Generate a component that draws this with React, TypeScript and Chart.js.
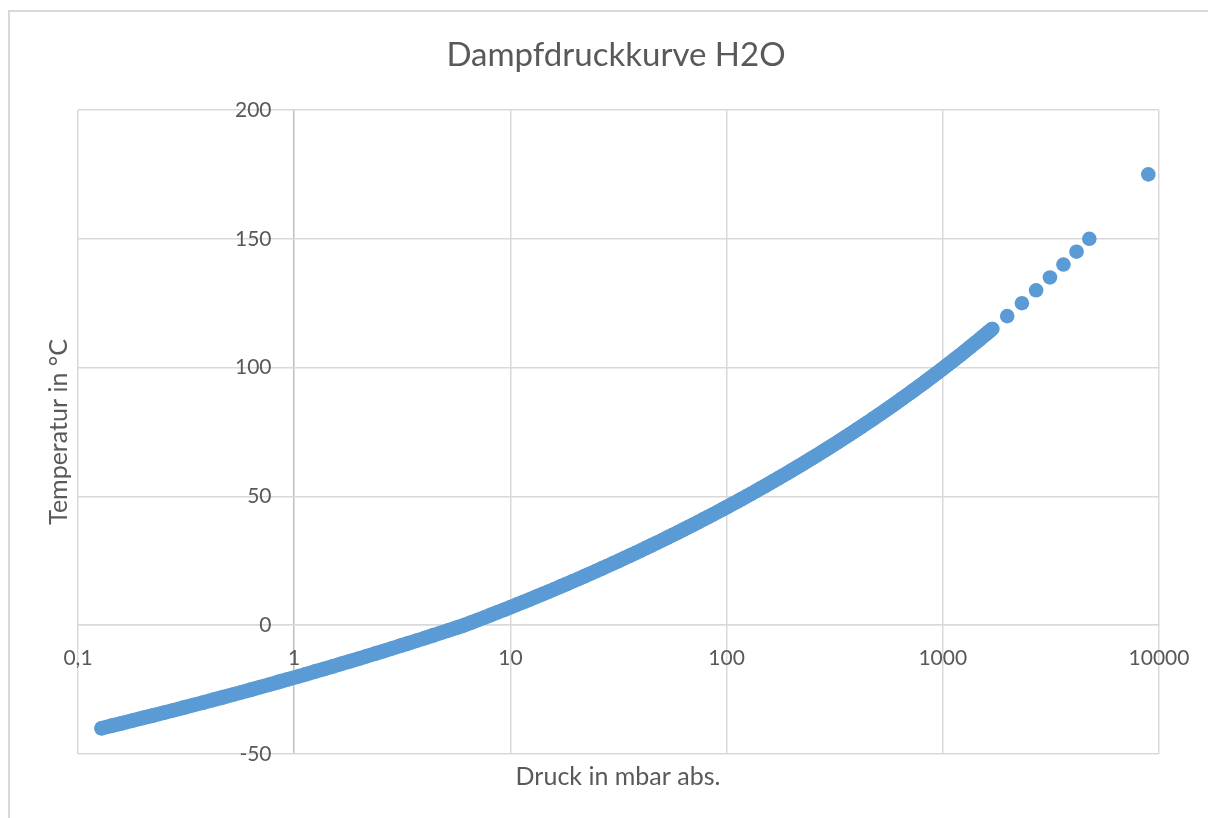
import React, { useEffect, useRef } from "react";
import { Chart, registerables } from "chart.js";

Chart.register(...registerables);

const chartTitle = "Dampfdruckkurve H2O";
const xAxisTitle = "Druck in mbar abs.";
const yAxisTitle = "Temperatur in °C";

// dense part of the curve (1 °C steps)
const denseTemperatureC = [
  -40, -39, -38, -37, -36, -35, -34, -33, -32, -31,
  -30, -29, -28, -27, -26, -25, -24, -23, -22, -21,
  -20, -19, -18, -17, -16, -15, -14, -13, -12, -11,
  -10, -9, -8, -7, -6, -5, -4, -3, -2, -1,
  0, 1, 2, 3, 4, 5, 6, 7, 8, 9,
  10, 11, 12, 13, 14, 15, 16, 17, 18, 19,
  20, 21, 22, 23, 24, 25, 26, 27, 28, 29,
  30, 31, 32, 33, 34, 35, 36, 37, 38, 39,
  40, 41, 42, 43, 44, 45, 46, 47, 48, 49,
  50, 51, 52, 53, 54, 55, 56, 57, 58, 59,
  60, 61, 62, 63, 64, 65, 66, 67, 68, 69,
  70, 71, 72, 73, 74, 75, 76, 77, 78, 79,
  80, 81, 82, 83, 84, 85, 86, 87, 88, 89,
  90, 91, 92, 93, 94, 95, 96, 97, 98, 99,
  100, 101, 102, 103, 104, 105, 106, 107, 108, 109,
  110, 111, 112, 113, 114, 115,
];

const densePressureMbar = [
  0.1285, 0.1436, 0.1605, 0.179, 0.1996, 0.2233, 0.2488, 0.2769, 0.3079, 0.3421,
  0.3801, 0.4213, 0.4669, 0.517, 0.572, 0.6323, 0.6985, 0.7709, 0.8502, 0.937,
  1.032, 1.135, 1.248, 1.371, 1.506, 1.652, 1.811, 1.984, 2.172, 2.376,
  2.597, 2.837, 3.097, 3.379, 3.685, 4.015, 4.372, 4.757, 5.173, 5.623,
  6.112, 6.571, 7.06, 7.581, 8.135, 8.725, 9.353, 10.021, 10.73, 11.483,
  12.282, 13.129, 14.028, 14.981, 15.989, 17.057, 18.188, 19.383, 20.647, 21.983,
  23.392, 24.878, 26.448, 28.104, 29.85, 31.69, 33.629, 35.67, 37.818, 40.078,
  42.455, 44.953, 47.578, 50.335, 53.229, 56.267, 59.454, 62.795, 66.298, 69.969,
  73.814, 77.84, 82.054, 86.464, 91.076, 95.898, 100.94, 106.2, 111.7, 117.44,
  123.44, 129.7, 136.22, 143.03, 150.12, 157.52, 165.22, 173.24, 181.59, 190.28,
  199.32, 208.73, 218.51, 228.68, 239.25, 250.22, 261.63, 273.47, 285.76, 298.52,
  311.76, 325.49, 339.72, 354.49, 369.78, 385.63, 402.05, 419.05, 436.65, 454.87,
  473.73, 493.24, 513.42, 534.28, 555.85, 578.15, 601.19, 624.99, 649.58, 674.96,
  701.17, 728.23, 756.14, 784.95, 814.65, 845.29, 876.88, 909.45, 943.01, 977.6,
  1014.2, 1050, 1088, 1127, 1167, 1209, 1251, 1294, 1339, 1385,
  1433.8, 1482, 1532, 1583.3, 1636.5, 1691.8,
];

// single points above 115 °C
const sparseTemperatureC = [120, 125, 130, 135, 140, 145, 150, 175];
const sparsePressureMbar = [1985.4, 2321.8, 2701.4, 3130.3, 3614.6, 4154.9, 4759.7, 8924.4];

const xTickValues = [0.1, 1, 10, 100, 1000, 10000];
const xTickLabels = ["0,1", "1", "10", "100", "1000", "10000"];
const yTickValues = [-50, 0, 50, 100, 150, 200];

const FONT = "Lato, 'Open Sans', sans-serif";
const TEXT_COLOR = "#595959";
const GRID_COLOR = "#D9D9D9";
const AXIS_COLOR = "#BFBFBF";
const POINT_COLOR = "#5B9BD5";
const MARKER_RADIUS = 7.3;

const decorPlugin = {
  id: "decor",
  beforeDraw(chart: any) {
    const { ctx, width, height } = chart;
    ctx.save();
    ctx.fillStyle = "#ffffff";
    ctx.fillRect(0, 0, width, height);
    ctx.fillStyle = GRID_COLOR;
    ctx.fillRect(8, 10, width - 8, 2);
    ctx.fillRect(8, 10, 2, height - 10);
    ctx.restore();
  },
  afterDraw(chart: any) {
    const { ctx, chartArea } = chart;
    ctx.save();
    ctx.fillStyle = TEXT_COLOR;
    ctx.textAlign = "center";
    ctx.textBaseline = "alphabetic";
    ctx.font = `33px ${FONT}`;
    ctx.fillText(chartTitle, 616, 66);
    ctx.font = `25px ${FONT}`;
    ctx.fillText(xAxisTitle, 618, 785);
    ctx.translate(67, (chartArea.top + chartArea.bottom) / 2);
    ctx.rotate(-Math.PI / 2);
    ctx.fillText(yAxisTitle, 0, 0);
    ctx.restore();
  },
};

export default function App() {
  const canvasRef = useRef<HTMLCanvasElement | null>(null);

  useEffect(() => {
    document.body.style.margin = "0";
    const canvas = canvasRef.current;
    if (!canvas) return;
    const densePoints = denseTemperatureC.map((t, i) => ({ x: densePressureMbar[i], y: t }));
    const sparsePoints = sparseTemperatureC.map((t, i) => ({ x: sparsePressureMbar[i], y: t }));
    const chart = new Chart(canvas, {
      type: "scatter",
      data: {
        datasets: [
          {
            label: "Dampfdruck",
            data: densePoints,
            backgroundColor: POINT_COLOR,
            borderColor: POINT_COLOR,
            borderWidth: MARKER_RADIUS * 2,
            borderCapStyle: "round",
            borderJoinStyle: "round",
            pointBorderWidth: 0,
            pointRadius: MARKER_RADIUS,
            pointHoverRadius: MARKER_RADIUS,
            showLine: true,
            tension: 0,
          } as any,
          {
            label: "Dampfdruck hoch",
            data: sparsePoints,
            backgroundColor: POINT_COLOR,
            borderWidth: 0,
            pointRadius: MARKER_RADIUS,
            pointHoverRadius: MARKER_RADIUS,
            showLine: false,
          },
        ],
      },
      options: {
        responsive: false,
        animation: false,
        devicePixelRatio: 1,
        layout: { padding: { left: 78, top: 110, right: 49, bottom: 64 } },
        plugins: {
          legend: { display: false },
          title: { display: false },
          tooltip: { enabled: false },
        },
        scales: {
          x: {
            type: "logarithmic",
            min: 0.1,
            max: 10000,
            position: { y: 0 } as any,
            afterBuildTicks: (scale: any) => {
              scale.ticks = xTickValues.map((v) => ({ value: v }));
            },
            afterFit: (scale: any) => {
              scale.height = 0;
              scale.paddingLeft = 0;
              scale.paddingRight = 0;
            },
            grid: {
              color: (ctx: any) => (ctx.tick && ctx.tick.value === 1 ? AXIS_COLOR : GRID_COLOR),
              lineWidth: 1.5,
              drawTicks: false,
              tickLength: 0,
            },
            border: { display: true, color: GRID_COLOR, width: 1.5 },
            ticks: {
              color: TEXT_COLOR,
              font: { family: FONT, size: 21 },
              padding: 20,
              maxRotation: 0,
              minRotation: 0,
              autoSkip: false,
              callback: (_v: any, i: number) => xTickLabels[i],
            },
          },
          y: {
            type: "linear",
            min: -50,
            max: 200,
            position: "left",
            afterBuildTicks: (scale: any) => {
              scale.ticks = yTickValues.map((v) => ({ value: v }));
            },
            afterFit: (scale: any) => {
              scale.width = 0;
              scale.paddingTop = 0;
              scale.paddingBottom = 0;
            },
            grid: {
              color: GRID_COLOR,
              lineWidth: 1.5,
              drawTicks: false,
              tickLength: 0,
            },
            border: { display: false },
            ticks: {
              color: TEXT_COLOR,
              font: { family: FONT, size: 21 },
              mirror: true,
              crossAlign: "far",
              padding: 157,
              callback: (v: any) => String(v),
            },
          },
        },
      },
      plugins: [decorPlugin],
    });
    return () => chart.destroy();
  }, []);

  return (
    <div style={{ width: 1208, height: 818 }}>
      <canvas ref={canvasRef} width={1208} height={818} />
    </div>
  );
}
